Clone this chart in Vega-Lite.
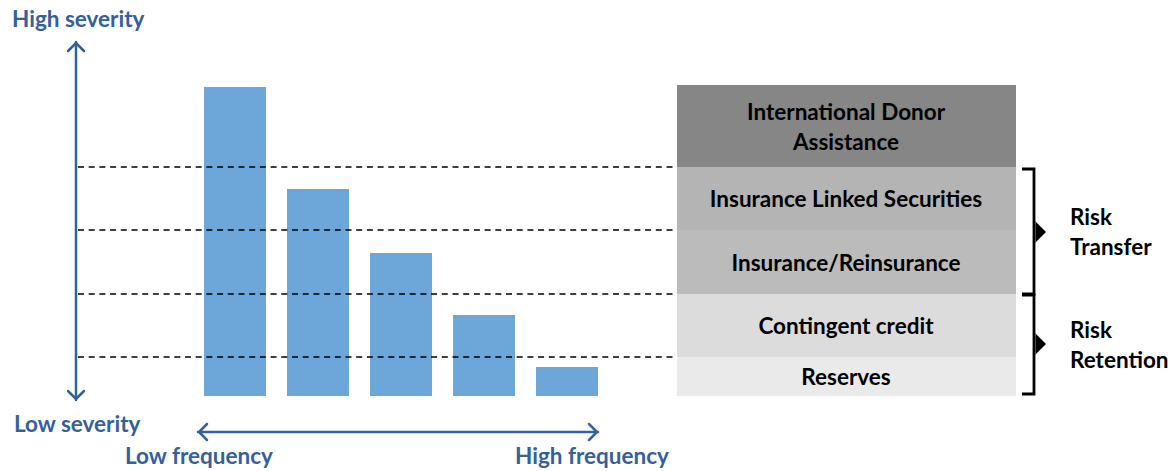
{
  "$schema": "https://vega.github.io/schema/vega-lite/v6.json",
  "width": 1174,
  "height": 471,
  "autosize": {"type": "fit", "contains": "padding"},
  "padding": 0,
  "background": "white",
  "config": {"view": {"stroke": null}},
  "datasets": {
    "boxes": [
      {"name": "International Donor Assistance", "x0": 677, "x1": 1016, "y0": 85, "y1": 167, "fill": "#868686"},
      {"name": "Insurance Linked Securities", "x0": 677, "x1": 1016, "y0": 167, "y1": 230, "fill": "#B4B4B4"},
      {"name": "Insurance/Reinsurance", "x0": 677, "x1": 1016, "y0": 230, "y1": 294, "fill": "#BBBBBB"},
      {"name": "Contingent credit", "x0": 677, "x1": 1016, "y0": 294, "y1": 357, "fill": "#DCDCDC"},
      {"name": "Reserves", "x0": 677, "x1": 1016, "y0": 357, "y1": 396, "fill": "#EAEAEA"}
    ],
    "bars": [
      {"bar": 1, "x0": 204, "x1": 266, "top": 87, "base": 396},
      {"bar": 2, "x0": 287, "x1": 349, "top": 189, "base": 396},
      {"bar": 3, "x0": 370, "x1": 432, "top": 253, "base": 396},
      {"bar": 4, "x0": 453, "x1": 515, "top": 315, "base": 396},
      {"bar": 5, "x0": 536, "x1": 598, "top": 367, "base": 396}
    ],
    "dashes": [
      {"x0": 78, "x1": 677, "y": 167},
      {"x0": 78, "x1": 677, "y": 230},
      {"x0": 78, "x1": 677, "y": 294},
      {"x0": 78, "x1": 677, "y": 357}
    ],
    "arrows": [
      {"g": "v", "o": 1, "x": 76, "y": 42},
      {"g": "v", "o": 2, "x": 76, "y": 400},
      {"g": "vu", "o": 1, "x": 68, "y": 51},
      {"g": "vu", "o": 2, "x": 76, "y": 43},
      {"g": "vu", "o": 3, "x": 84, "y": 51},
      {"g": "vd", "o": 1, "x": 68, "y": 391},
      {"g": "vd", "o": 2, "x": 76, "y": 399},
      {"g": "vd", "o": 3, "x": 84, "y": 391},
      {"g": "h", "o": 1, "x": 198, "y": 432},
      {"g": "h", "o": 2, "x": 598, "y": 432},
      {"g": "hl", "o": 1, "x": 207, "y": 424},
      {"g": "hl", "o": 2, "x": 199, "y": 432},
      {"g": "hl", "o": 3, "x": 207, "y": 440},
      {"g": "hr", "o": 1, "x": 589, "y": 424},
      {"g": "hr", "o": 2, "x": 597, "y": 432},
      {"g": "hr", "o": 3, "x": 589, "y": 440}
    ],
    "brackets": [
      {"g": "t", "o": 1, "x": 1022, "y": 169},
      {"g": "t", "o": 2, "x": 1034, "y": 169},
      {"g": "t", "o": 3, "x": 1034, "y": 294},
      {"g": "t", "o": 4, "x": 1022, "y": 294},
      {"g": "r", "o": 1, "x": 1022, "y": 295},
      {"g": "r", "o": 2, "x": 1034, "y": 295},
      {"g": "r", "o": 3, "x": 1034, "y": 394},
      {"g": "r", "o": 4, "x": 1022, "y": 394}
    ],
    "tris": [
      {"x": 1035.5, "y": 232},
      {"x": 1035.5, "y": 344}
    ],
    "blueLabels": [
      {"t": "High severity", "x": 12, "y": 20},
      {"t": "Low severity", "x": 14, "y": 425},
      {"t": "Low frequency", "x": 125, "y": 457},
      {"t": "High frequency", "x": 515, "y": 457}
    ],
    "boxLabels": [
      {"t": "International Donor", "x": 846, "y": 113},
      {"t": "Assistance", "x": 846, "y": 143},
      {"t": "Insurance Linked Securities", "x": 846, "y": 200},
      {"t": "Insurance/Reinsurance", "x": 846, "y": 264},
      {"t": "Contingent credit", "x": 846, "y": 327},
      {"t": "Reserves", "x": 846, "y": 378}
    ],
    "sideLabels": [
      {"t": "Risk", "x": 1070, "y": 218},
      {"t": "Transfer", "x": 1070, "y": 248},
      {"t": "Risk", "x": 1070, "y": 331},
      {"t": "Retention", "x": 1070, "y": 361}
    ]
  },
  "layer": [
    {
      "data": {"name": "boxes"},
      "mark": {"type": "rect"},
      "encoding": {
        "x": {"field": "x0", "type": "quantitative", "scale": {"domain": [0, 1174]}, "axis": null},
        "x2": {"field": "x1"},
        "y": {"field": "y0", "type": "quantitative", "scale": {"domain": [0, 471], "reverse": true}, "axis": null},
        "y2": {"field": "y1"},
        "color": {"field": "fill", "type": "nominal", "scale": null, "legend": null}
      }
    },
    {
      "data": {"name": "bars"},
      "mark": {"type": "rect", "color": "#6DA7DA"},
      "encoding": {
        "x": {"field": "x0", "type": "quantitative", "scale": {"domain": [0, 1174]}, "axis": null},
        "x2": {"field": "x1"},
        "y": {"field": "top", "type": "quantitative", "scale": {"domain": [0, 471], "reverse": true}, "axis": null},
        "y2": {"field": "base"}
      }
    },
    {
      "data": {"name": "dashes"},
      "mark": {"type": "rule", "color": "#000000", "strokeWidth": 1.4, "strokeDash": [6, 4.7]},
      "encoding": {
        "x": {"field": "x0", "type": "quantitative", "scale": {"domain": [0, 1174]}, "axis": null},
        "x2": {"field": "x1"},
        "y": {"field": "y", "type": "quantitative", "scale": {"domain": [0, 471], "reverse": true}, "axis": null}
      }
    },
    {
      "data": {"name": "arrows"},
      "mark": {"type": "line", "color": "#36609A", "strokeWidth": 2.5, "strokeCap": "round", "strokeJoin": "miter"},
      "encoding": {
        "x": {"field": "x", "type": "quantitative", "scale": {"domain": [0, 1174]}, "axis": null},
        "y": {"field": "y", "type": "quantitative", "scale": {"domain": [0, 471], "reverse": true}, "axis": null},
        "detail": {"field": "g", "type": "nominal"},
        "order": {"field": "o", "type": "quantitative"}
      }
    },
    {
      "data": {"name": "brackets"},
      "mark": {"type": "line", "color": "#000000", "strokeWidth": 2.8, "strokeJoin": "miter"},
      "encoding": {
        "x": {"field": "x", "type": "quantitative", "scale": {"domain": [0, 1174]}, "axis": null},
        "y": {"field": "y", "type": "quantitative", "scale": {"domain": [0, 471], "reverse": true}, "axis": null},
        "detail": {"field": "g", "type": "nominal"},
        "order": {"field": "o", "type": "quantitative"}
      }
    },
    {
      "data": {"name": "tris"},
      "mark": {"type": "point", "shape": "M0,-1L1,0L0,1Z", "filled": true, "color": "#000000", "size": 440, "opacity": 1, "strokeWidth": 0},
      "encoding": {
        "x": {"field": "x", "type": "quantitative", "scale": {"domain": [0, 1174]}, "axis": null},
        "y": {"field": "y", "type": "quantitative", "scale": {"domain": [0, 471], "reverse": true}, "axis": null}
      }
    },
    {
      "data": {"name": "blueLabels"},
      "mark": {"type": "text", "align": "left", "baseline": "middle", "font": "Lato", "fontWeight": "bold", "fontSize": 22.5, "color": "#36609A"},
      "encoding": {
        "x": {"field": "x", "type": "quantitative", "scale": {"domain": [0, 1174]}, "axis": null},
        "y": {"field": "y", "type": "quantitative", "scale": {"domain": [0, 471], "reverse": true}, "axis": null},
        "text": {"field": "t"}
      }
    },
    {
      "data": {"name": "boxLabels"},
      "mark": {"type": "text", "align": "center", "baseline": "middle", "font": "Lato", "fontWeight": "bold", "fontSize": 22.5, "color": "#000000"},
      "encoding": {
        "x": {"field": "x", "type": "quantitative", "scale": {"domain": [0, 1174]}, "axis": null},
        "y": {"field": "y", "type": "quantitative", "scale": {"domain": [0, 471], "reverse": true}, "axis": null},
        "text": {"field": "t"}
      }
    },
    {
      "data": {"name": "sideLabels"},
      "mark": {"type": "text", "align": "left", "baseline": "middle", "font": "Lato", "fontWeight": "bold", "fontSize": 22.5, "color": "#000000"},
      "encoding": {
        "x": {"field": "x", "type": "quantitative", "scale": {"domain": [0, 1174]}, "axis": null},
        "y": {"field": "y", "type": "quantitative", "scale": {"domain": [0, 471], "reverse": true}, "axis": null},
        "text": {"field": "t"}
      }
    }
  ]
}
